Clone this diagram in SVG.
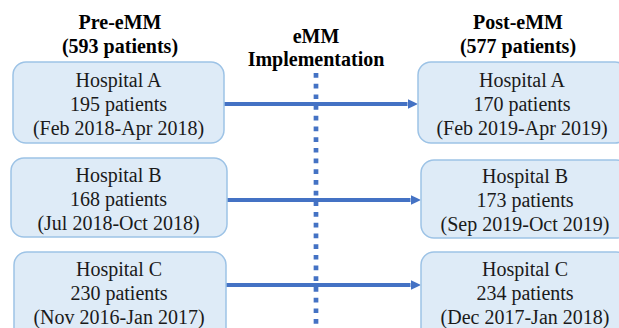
<svg xmlns="http://www.w3.org/2000/svg" width="619" height="328" viewBox="0 0 619 328">
  <defs>
    <style>
      .box { fill: #DEEBF7; stroke: #9DC3E6; stroke-width: 1.5; }
      .txt { font-family: "Liberation Serif", "Times New Roman", serif; font-size: 20px; fill: #1a1a1a; text-anchor: middle; }
      .hd { font-family: "Liberation Serif", "Times New Roman", serif; font-size: 20px; font-weight: bold; fill: #000; text-anchor: middle; }
      .conn { stroke: #4472C4; stroke-width: 4; fill: none; }
      .dots { stroke: #4472C4; stroke-width: 4.7; fill: none; stroke-dasharray: 4.7 6; }
    </style>
    <marker id="arrow" markerUnits="userSpaceOnUse" markerWidth="11" markerHeight="11" refX="0" refY="5" orient="auto">
      <path d="M0,0 L10.5,5 L0,10 Z" fill="#4472C4"/>
    </marker>
  </defs>
  <rect width="619" height="328" fill="#ffffff"/>

  <g id="headings">
    <text class="hd" x="120" y="29">Pre-eMM</text>
    <text class="hd" x="120" y="53">(593 patients)</text>
    <text class="hd" x="316" y="43">eMM</text>
    <text class="hd" x="316" y="66">Implementation</text>
    <text class="hd" x="518" y="29">Post-eMM</text>
    <text class="hd" x="518" y="53">(577 patients)</text>
  </g>

  <g id="connectors">
    <line class="dots" x1="316" y1="73" x2="316" y2="330"/>
    <line class="conn" x1="224" y1="104" x2="407.5" y2="104" marker-end="url(#arrow)"/>
    <line class="conn" x1="227" y1="200" x2="410.5" y2="200" marker-end="url(#arrow)"/>
    <line class="conn" x1="226" y1="285" x2="410.5" y2="285" marker-end="url(#arrow)"/>
  </g>

  <g id="pre-a">
    <rect class="box" x="13" y="62" width="211" height="81" rx="13"/>
    <text class="txt" x="118.5" y="87">Hospital A</text>
    <text class="txt" x="118.5" y="111">195 patients</text>
    <text class="txt" x="118.5" y="135">(Feb 2018-Apr 2018)</text>
  </g>
  <g id="pre-b">
    <rect class="box" x="11" y="158" width="216" height="79" rx="13"/>
    <text class="txt" x="118.5" y="182">Hospital B</text>
    <text class="txt" x="118.5" y="206">168 patients</text>
    <text class="txt" x="118.5" y="230">(Jul 2018-Oct 2018)</text>
  </g>
  <g id="pre-c">
    <rect class="box" x="14" y="252" width="212" height="90" rx="13"/>
    <text class="txt" x="119" y="276">Hospital C</text>
    <text class="txt" x="119" y="300">230 patients</text>
    <text class="txt" x="119" y="324">(Nov 2016-Jan 2017)</text>
  </g>

  <g id="post-a">
    <rect class="box" x="418" y="62" width="210" height="81" rx="13"/>
    <text class="txt" x="522" y="87">Hospital A</text>
    <text class="txt" x="522" y="111">170 patients</text>
    <text class="txt" x="522" y="135">(Feb 2019-Apr 2019)</text>
  </g>
  <g id="post-b">
    <rect class="box" x="421" y="160" width="208" height="78" rx="13"/>
    <text class="txt" x="525" y="183">Hospital B</text>
    <text class="txt" x="525" y="207">173 patients</text>
    <text class="txt" x="525" y="231">(Sep 2019-Oct 2019)</text>
  </g>
  <g id="post-c">
    <rect class="box" x="421" y="252" width="208" height="90" rx="13"/>
    <text class="txt" x="525" y="276">Hospital C</text>
    <text class="txt" x="525" y="300">234 patients</text>
    <text class="txt" x="525" y="324">(Dec 2017-Jan 2018)</text>
  </g>
</svg>
